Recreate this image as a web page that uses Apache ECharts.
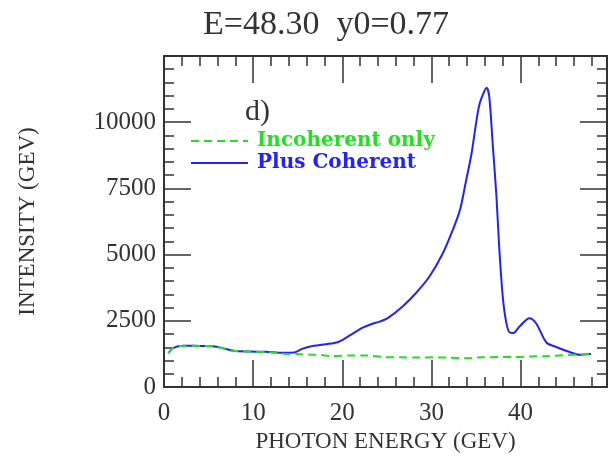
<!DOCTYPE html>
<html>
<head>
<meta charset="utf-8">
<script src="https://cdn.jsdelivr.net/npm/echarts@6/dist/echarts.min.js"></script>
<style>html,body{margin:0;padding:0;background:#fff;}#c{width:610px;height:456px;}</style>
</head>
<body>
<div id="c"></div>
<script>
// Data
const titleText = 'E=48.30  y0=0.77';
const panelLabel = 'd)';
const xName = 'PHOTON ENERGY (GEV)';
const yName = 'INTENSITY (GEV)';
const seriesNames = ['Incoherent only', 'Plus Coherent'];

const incohE = [0.5, 1.0, 2.2, 4.0, 5.5, 6.8, 7.8, 9.6, 11.4, 13.4, 15.2, 17.1, 18.9, 20.8, 22.7, 24.6, 26.5, 28.4, 30.2, 32.0, 33.9, 35.6, 37.4, 39.3, 41.1, 43.0, 44.9, 46.8, 47.9];
const incohI = [1280, 1470, 1560, 1550, 1540, 1450, 1370, 1340, 1320, 1260, 1240, 1220, 1170, 1190, 1190, 1130, 1120, 1110, 1120, 1110, 1090, 1120, 1130, 1130, 1150, 1170, 1200, 1230, 1260];

const cohE = [0.5, 1.0, 2.2, 4.0, 5.5, 6.8, 7.8, 9.6, 11.4, 13.4, 14.6, 15.5, 16.4, 18.2, 19.5, 20.1, 21.0, 22.3, 23.3, 24.2, 25.1, 26.8, 28.3, 29.8, 31.3, 32.4, 33.2, 33.9, 34.5, 35.0, 35.4, 35.97, 36.2, 36.5, 36.9, 37.3, 37.6, 38.0, 38.4, 38.8, 39.2, 39.9, 41.0, 41.76, 42.9, 44.0, 45.5, 46.6, 47.9];
const cohI = [1280, 1470, 1560, 1550, 1540, 1450, 1370, 1340, 1330, 1290, 1300, 1440, 1530, 1615, 1690, 1790, 1980, 2240, 2380, 2470, 2600, 3050, 3560, 4180, 5060, 5930, 6680, 7810, 8810, 9940, 10690, 11190, 11300, 10940, 9060, 7180, 5310, 3430, 2430, 2050, 2040, 2290, 2600, 2400, 1680, 1510, 1320, 1220, 1250];

const xMin = 0, xMax = 49.7, xMajor = 10, xMinor = 2;
const yMin = 0, yMax = 12500, yMajor = 2500, yMinor = 500;

const chart = echarts.init(document.getElementById('c'));
const ink = '#333';
const serif = 'Liberation Serif';
const tickStyle = {color: ink, width: 1.5};
const fmt = v => String(v);

function xAx(g, pos, major, labels) {
  return {
    type: 'value', gridIndex: g, position: pos, min: xMin, max: xMax,
    interval: major ? xMajor : xMinor,
    axisLine: {show: false, onZero: false},
    splitLine: {show: false},
    axisTick: {show: true, inside: true, length: major ? 27 : 10, lineStyle: tickStyle},
    axisLabel: {show: labels, showMaxLabel: false, formatter: fmt, margin: 14, color: ink, fontFamily: serif, fontSize: 25},
    name: labels ? xName : '', nameLocation: 'middle', nameGap: 41,
    nameTextStyle: {color: ink, fontFamily: serif, fontSize: 23}
  };
}
function yAx(g, pos, major, labels) {
  return {
    type: 'value', gridIndex: g, position: pos, min: yMin, max: yMax,
    interval: major ? yMajor : yMinor,
    axisLine: {show: false, onZero: false},
    splitLine: {show: false},
    axisTick: {show: true, inside: true, length: major ? 27 : 10, lineStyle: tickStyle},
    axisLabel: {show: labels, showMaxLabel: false, formatter: fmt, margin: 8, color: ink, fontFamily: serif, fontSize: 25},
    name: labels ? yName : '', nameLocation: 'middle', nameGap: 125,
    nameTextStyle: {color: ink, fontFamily: serif, fontSize: 23}
  };
}
function grid(show) {
  return {left: 164, right: 3, top: 56, bottom: 69, containLabel: false, outerBoundsMode: 'none',
    show: show, borderColor: ink, borderWidth: 2, backgroundColor: 'transparent'};
}

chart.setOption({
  animation: false,
  backgroundColor: '#fff',
  title: {
    text: titleText, left: 198, top: 3,
    textStyle: {color: ink, fontFamily: serif, fontSize: 34, fontWeight: 'normal'}
  },
  grid: [grid(true), grid(false), grid(false), grid(false)],
  xAxis: [xAx(0, 'bottom', true, true), xAx(1, 'bottom', false, false), xAx(2, 'top', true, false), xAx(3, 'top', false, false)],
  yAxis: [yAx(0, 'left', true, true), yAx(1, 'left', false, false), yAx(2, 'right', true, false), yAx(3, 'right', false, false)],
  legend: {
    orient: 'vertical', left: 185, top: 126, itemWidth: 57, itemHeight: 14, itemGap: 2,
    itemStyle: {color: 'rgba(0,0,0,0)', borderWidth: 0, opacity: 0},
    textStyle: {fontFamily: 'DejaVu Serif', fontWeight: 'bold', fontSize: 20, padding: [0, 0, 0, 4]},
    data: [
      {name: seriesNames[0], textStyle: {color: '#22e022'}},
      {name: seriesNames[1], textStyle: {color: '#2222ff'}}
    ]
  },
  graphic: [{
    type: 'text', left: 245, top: 97,
    style: {text: panelLabel, font: '30px "Liberation Serif"', fill: ink}
  }],
  series: [
    {
      name: seriesNames[0], type: 'line', xAxisIndex: 0, yAxisIndex: 0,
      data: incohE.map((e, i) => [e, incohI[i]]),
      showSymbol: false, symbol: 'none', smooth: 0.3, z: 3,
      lineStyle: {color: '#22e022', width: 2, type: [8, 5]},
      itemStyle: {color: '#22e022'}
    },
    {
      name: seriesNames[1], type: 'line', xAxisIndex: 0, yAxisIndex: 0,
      data: cohE.map((e, i) => [e, cohI[i]]),
      showSymbol: false, symbol: 'none', smooth: 0.3, z: 2,
      lineStyle: {color: '#2222ff', width: 2},
      itemStyle: {color: '#2222ff'}
    }
  ]
});
</script>
</body>
</html>
